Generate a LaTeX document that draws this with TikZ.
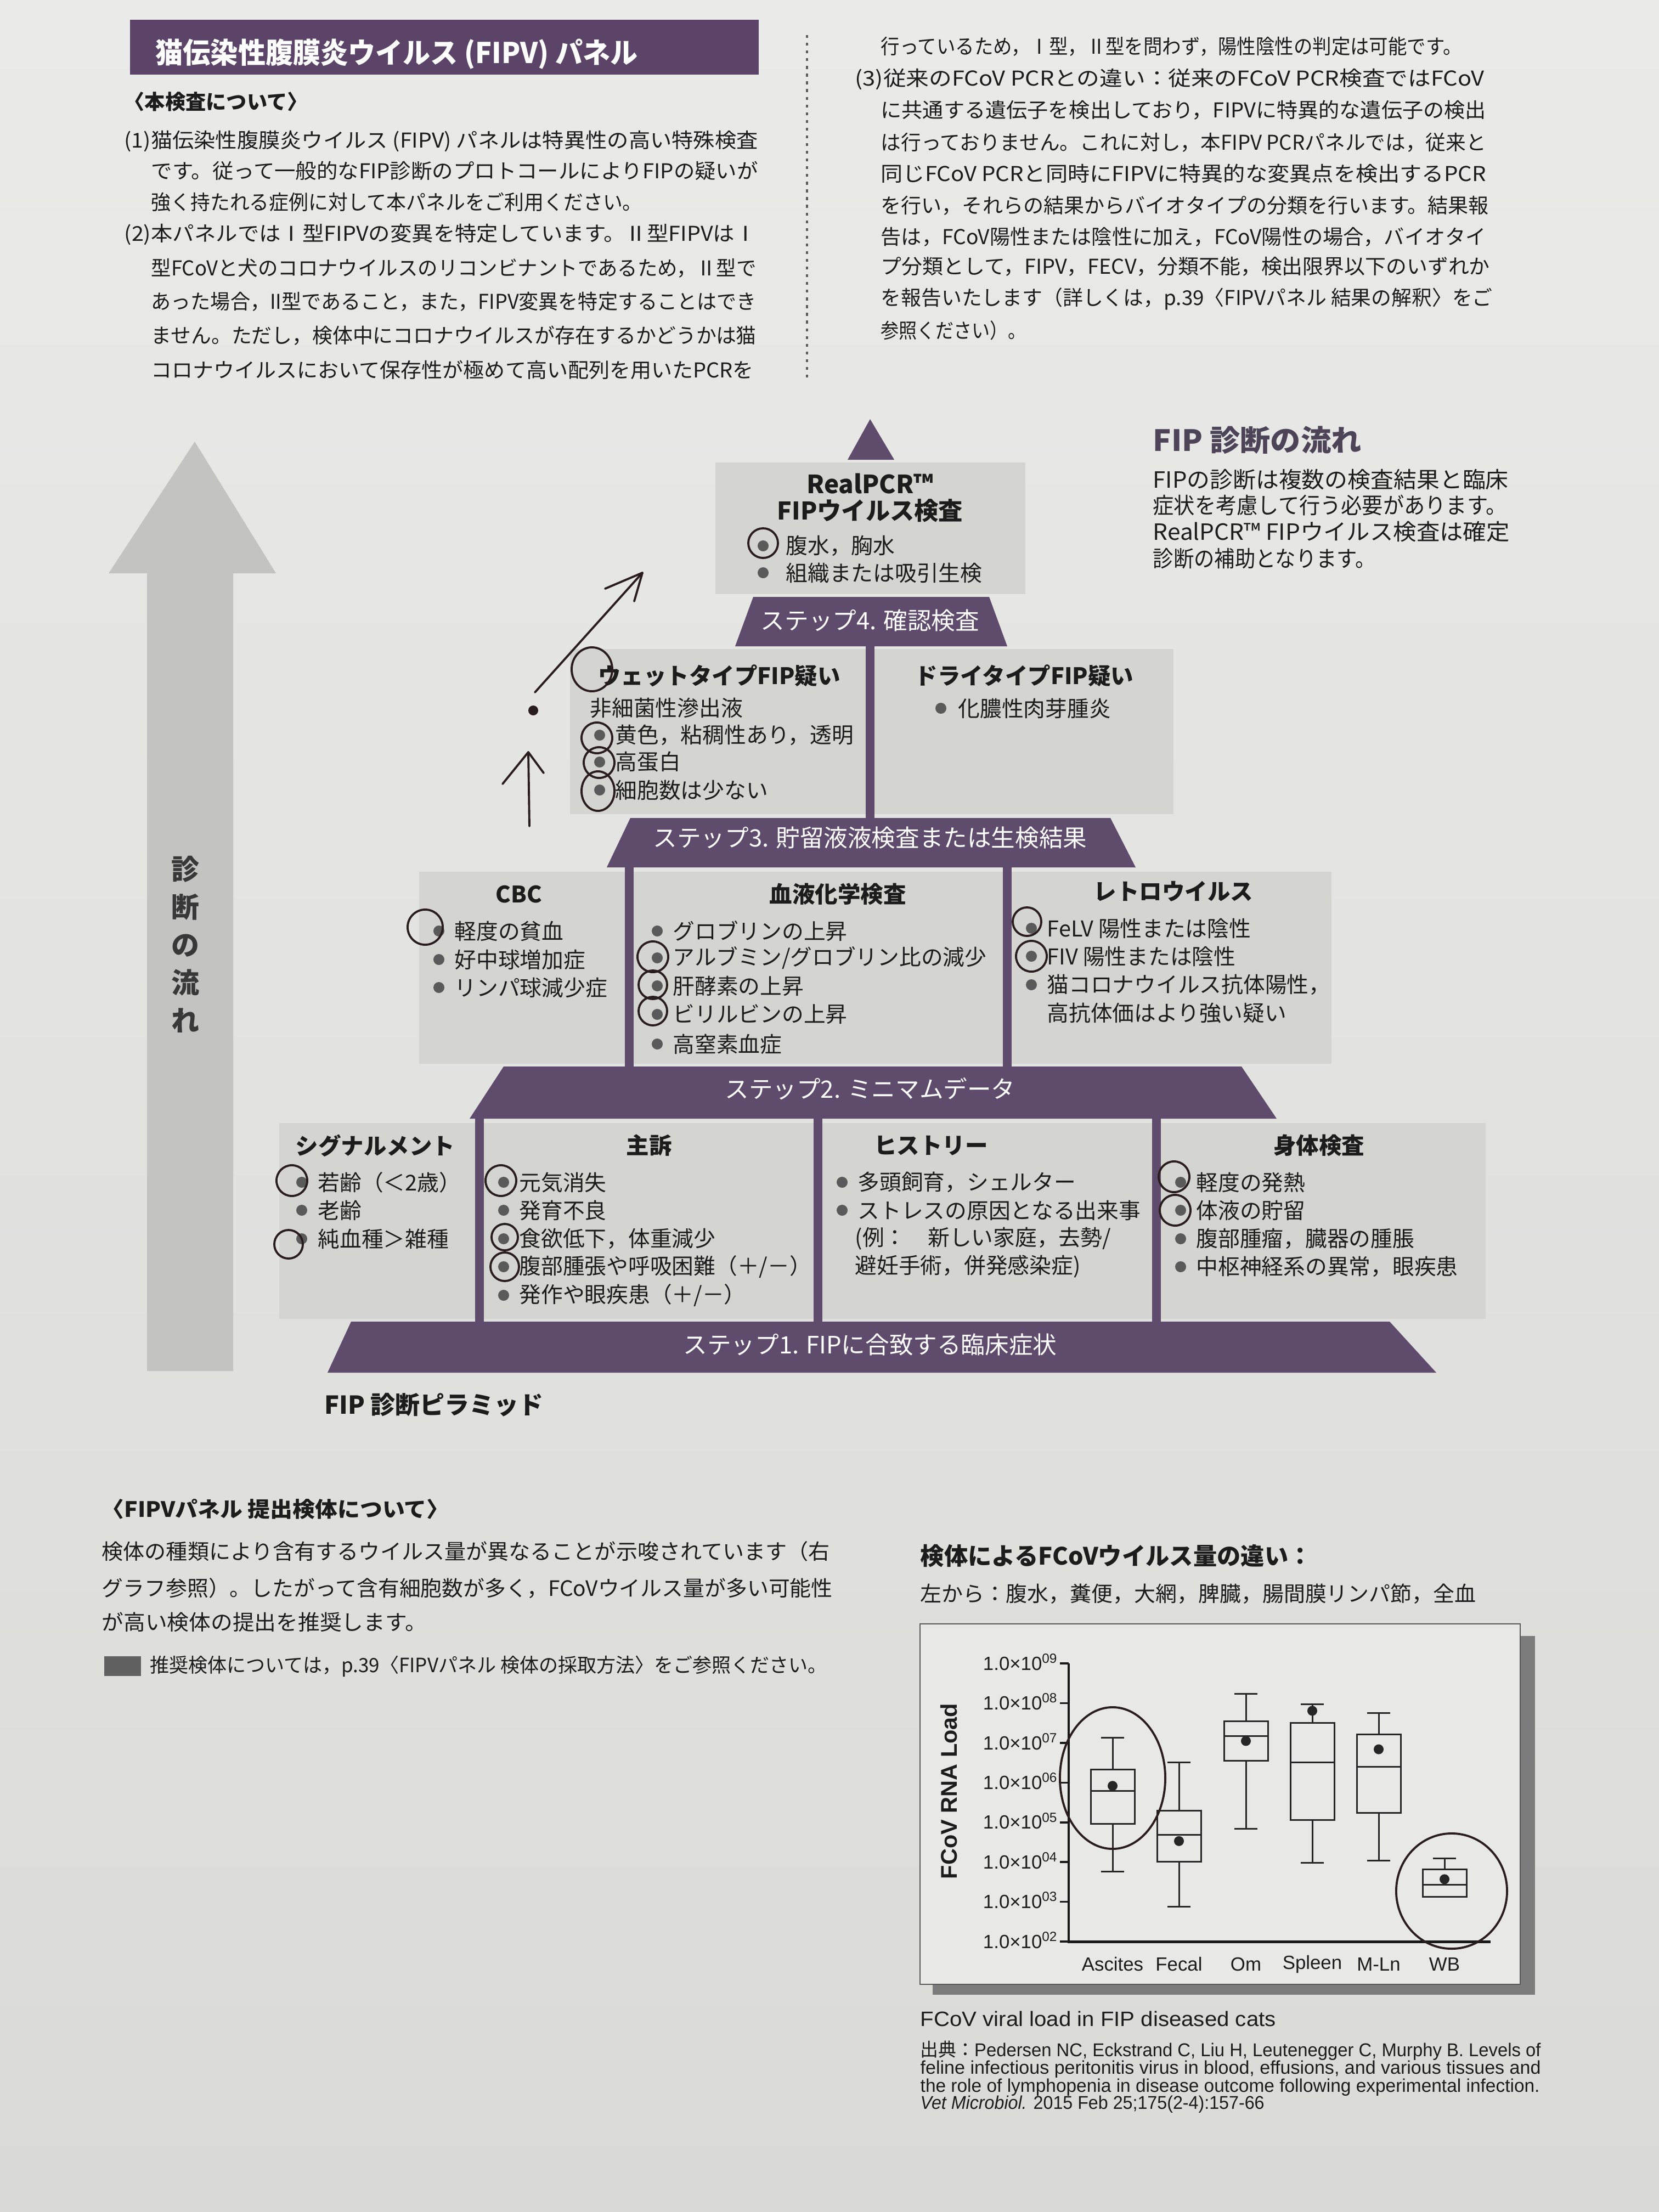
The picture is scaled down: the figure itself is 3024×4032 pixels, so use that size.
\documentclass[tikz,border=0pt]{standalone}
\usepackage{fontspec}
\usepackage{graphicx}
\setmainfont{Noto Sans CJK JP}
\newfontfamily\lat{Liberation Sans}
\usetikzlibrary{arrows.meta}
\definecolor{paperT}{HTML}{EAEAE8}
\definecolor{paperB}{HTML}{DADAD7}
\definecolor{boxg}{HTML}{D4D4D1}
\definecolor{purp}{HTML}{5F4B6C}
\definecolor{hbar}{HTML}{5B4468}
\definecolor{headc}{HTML}{4E4458}
\definecolor{ink}{HTML}{1C1C1C}
\definecolor{dotg}{HTML}{5A5A5A}
\definecolor{pen}{HTML}{2A1D1D}
\definecolor{arrowg}{HTML}{C3C3C1}
\definecolor{shadowg}{HTML}{7C7C7C}
\definecolor{chartbg}{HTML}{E8E8E6}
\newlength\pxu \setlength\pxu{0.01cm}
\newcounter{tn}
\newcommand\rl[5][]{\stepcounter{tn}\node[txt,#1] (t\arabic{tn}) at (#2,#3) {\resizebox{#4\pxu}{\height}{#5}};}
\newcommand\vy[1]{(3539-(#1-2)*72.4)}
\newcommand\itm[5]{\fill[dotg] (#2,#4) circle (0.1cm); \node[pt] (#1) at (#3,#4) {#5};}
\newcommand\bxp[7]{%
 \draw[chartl] (#1,{\vy{#2}}) -- (#1,{\vy{#3}});
 \draw[chartl] (#1,{\vy{#6}}) -- (#1,{\vy{#7}});
 \draw[chartl] ({#1-21},{\vy{#2}}) -- ({#1+21},{\vy{#2}});
 \draw[chartl] ({#1-21},{\vy{#7}}) -- ({#1+21},{\vy{#7}});
 \draw[chartl] ({#1-40},{\vy{#3}}) rectangle ({#1+40},{\vy{#6}});
 \draw[chartl] ({#1-40},{\vy{#4}}) -- ({#1+40},{\vy{#4}});
 \fill[black!85] (#1,{\vy{#5}}) circle (0.09cm);}
\tikzset{
 txt/.style={anchor=west, inner sep=0pt, text=ink, font=\fontsize{10.6}{12}\selectfont},
 pt/.style={anchor=west, inner sep=0pt, text=ink, font=\fontsize{11.3}{13}\selectfont},
 hd/.style={inner sep=0pt, text=ink, font=\bfseries\fontsize{11.8}{13}\selectfont},
 steptxt/.style={inner sep=0pt, text=white, font=\fontsize{12.4}{14}\selectfont},
 pencirc/.style={draw=pen, line width=1.1pt},
 penline/.style={draw=pen, line width=1.1pt, line cap=round, line join=round},
 chartl/.style={draw=black!85, line width=0.85pt},
 latf/.style={inner sep=0pt, text=ink, font=\lat\fontsize{9.9}{11}\selectfont},
 fs/.style={font=\fontsize{#1}{#1}\selectfont},
 fb/.style={font=\bfseries\fontsize{#1}{#1}\selectfont},
 fl/.style={font=\lat\fontsize{#1}{#1}\selectfont},
}
\begin{document}
\begin{tikzpicture}[x=0.01cm,y=-0.01cm]
\useasboundingbox (0,0) rectangle (3024,4032);
\shade[top color=paperT, bottom color=paperB] (0,0) rectangle (3024,4032);

% ---------- top header ----------
\fill[hbar] (237,36) rectangle (1383,136);
\rl[text=white,fb=14.8]{283}{98}{879}{猫伝染性腹膜炎ウイルス (FIPV) パネル}
\rl[fb=10.6]{226}{185}{334}{〈本検査について〉}
\rl{226}{257}{1155}{(1)猫伝染性腹膜炎ウイルス (FIPV) パネルは特異性の高い特殊検査}
\rl{275}{311}{1106}{です。従って一般的なFIP診断のプロトコールによりFIPの疑いが}
\rl{275}{368}{895}{強く持たれる症例に対して本パネルをご利用ください。}
\rl{226}{427}{1152}{(2)本パネルではⅠ型FIPVの変異を特定しています。Ⅱ型FIPVはⅠ}
\rl{275}{489}{1103}{型FCoVと犬のコロナウイルスのリコンビナントであるため，Ⅱ型で}
\rl{275}{550}{1103}{あった場合，II型であること，また，FIPV変異を特定することはでき}
\rl{275}{612}{1103}{ません。ただし，検体中にコロナウイルスが存在するかどうかは猫}
\rl{275}{674}{1098}{コロナウイルスにおいて保存性が極めて高い配列を用いたPCRを}

\draw[dotg, line width=1.2pt, dash pattern=on 1.5pt off 2.5pt] (1471,64) -- (1471,689);

\rl{1605}{85}{1059}{行っているため，Ⅰ型，Ⅱ型を問わず，陽性陰性の判定は可能です。}
\rl{1558}{144}{1147}{(3)従来のFCoV PCRとの違い：従来のFCoV PCR検査ではFCoV}
\rl{1605}{201}{1103}{に共通する遺伝子を検出しており，FIPVに特異的な遺伝子の検出}
\rl{1605}{260}{1103}{は行っておりません。これに対し，本FIPV PCRパネルでは，従来と}
\rl{1605}{316}{1103}{同じFCoV PCRと同時にFIPVに特異的な変異点を検出するPCR}
\rl{1605}{375}{1108}{を行い，それらの結果からバイオタイプの分類を行います。結果報}
\rl{1605}{432}{1103}{告は，FCoV陽性または陰性に加え，FCoV陽性の場合，バイオタイ}
\rl{1605}{486}{1110}{プ分類として，FIPV，FECV，分類不能，検出限界以下のいずれか}
\rl{1605}{545}{1115}{を報告いたします（詳しくは，p.39〈FIPVパネル 結果の解釈〉をご}
\rl{1605}{602}{265}{参照ください）。}

% ---------- right side explanation ----------
\rl[text=headc,fb=15.2]{2101}{802}{380}{FIP 診断の流れ}
\rl[fs=11.6]{2101}{874}{648}{FIPの診断は複数の検査結果と臨床}
\rl[fs=11.6]{2101}{921}{645}{症状を考慮して行う必要があります。}
\rl[fs=11.6]{2101}{969}{650}{RealPCR™ FIPウイルス検査は確定}
\rl[fs=11.6]{2101}{1018}{406}{診断の補助となります。}

% ---------- big arrow ----------
\fill[arrowg] (268,2499) -- (268,1045) -- (198,1045) -- (355,805) -- (503,1045) -- (425,1045) -- (425,2499) -- cycle;
\node[align=center, inner sep=0pt, text=black!78, font=\bfseries\fontsize{14.5}{19.6}\selectfont] (flow) at (338,1721) {診\\断\\の\\流\\れ};

% ---------- pyramid shapes ----------
\fill[purp] (1586,764) -- (1630,838) -- (1545,838) -- cycle;
\fill[boxg] (1304,843) rectangle (1869,1083);
\fill[purp] (1373,1088) -- (1803,1088) -- (1836,1178) -- (1340,1178) -- cycle;
\fill[boxg] (1039,1183) rectangle (1578,1484);
\fill[boxg] (1594,1183) rectangle (2139,1484);
\fill[purp] (1578,1178) rectangle (1594,1491);
\fill[purp] (1149,1491) -- (2024,1491) -- (2070,1581) -- (1106,1581) -- cycle;
\fill[boxg] (764,1589) rectangle (1139,1939);
\fill[boxg] (1155,1589) rectangle (1828,1939);
\fill[boxg] (1844,1589) rectangle (2427,1939);
\fill[purp] (1139,1581) rectangle (1155,1944);
\fill[purp] (1828,1581) rectangle (1844,1944);
\fill[purp] (918,1944) -- (2263,1944) -- (2327,2039) -- (856,2039) -- cycle;
\fill[boxg] (509,2047) rectangle (866,2404);
\fill[boxg] (882,2047) rectangle (1483,2404);
\fill[boxg] (1499,2047) rectangle (2100,2404);
\fill[boxg] (2116,2047) rectangle (2708,2404);
\fill[purp] (866,2039) rectangle (882,2409);
\fill[purp] (1483,2039) rectangle (1499,2409);
\fill[purp] (2100,2039) rectangle (2116,2409);
\fill[purp] (640,2409) -- (2533,2409) -- (2618,2502) -- (597,2502) -- cycle;

% step labels
\node[steptxt] (s4) at (1586,1131) {ステップ4. 確認検査};
\node[steptxt] (s3) at (1586,1527) {ステップ3. 貯留液液検査または生検結果};
\node[steptxt] (s2) at (1586,1985) {ステップ2. ミニマムデータ};
\node[steptxt] (s1) at (1586,2451) {ステップ1. FIPに合致する臨床症状};

% step 4 box
\node[hd, font=\bfseries\fontsize{13}{14}\selectfont] (rp) at (1586,882) {RealPCR™};
\node[hd, font=\bfseries\fontsize{12.6}{14}\selectfont] (fv) at (1586,931) {FIPウイルス検査};
\itm{a1}{1391}{1432}{995}{腹水，胸水}
\itm{a2}{1391}{1432}{1044}{組織または吸引生検}

% step 3 boxes
\node[hd] (wet) at (1311,1232) {ウェットタイプFIP疑い};
\node[pt] (wet0) at (1075,1291) {非細菌性滲出液};
\itm{w1}{1093}{1121}{1340}{黄色，粘稠性あり，透明}
\itm{w2}{1093}{1121}{1389}{高蛋白}
\itm{w3}{1093}{1121}{1440}{細胞数は少ない}
\node[hd] (dry) at (1867,1232) {ドライタイプFIP疑い};
\itm{d1}{1715}{1746}{1291}{化膿性肉芽腫炎}

% step 2 boxes
\node[hd] (cbc) at (946,1630) {CBC};
\itm{c1}{800}{828}{1697}{軽度の貧血}
\itm{c2}{800}{828}{1749}{好中球増加症}
\itm{c3}{800}{828}{1800}{リンパ球減少症}
\node[hd] (chem) at (1527,1630) {血液化学検査};
\itm{b1}{1198}{1226}{1697}{グロブリンの上昇}
\itm{b2}{1198}{1226}{1746}{アルブミン/グロブリン比の減少}
\itm{b3}{1198}{1226}{1797}{肝酵素の上昇}
\itm{b4}{1198}{1226}{1849}{ビリルビンの上昇}
\itm{b5}{1198}{1226}{1903}{高窒素血症}
\node[hd] (retro) at (2139,1625) {レトロウイルス};
\itm{r1}{1880}{1908}{1692}{FeLV 陽性または陰性}
\itm{r2}{1880}{1908}{1743}{FIV 陽性または陰性}
\itm{r3}{1880}{1908}{1795}{猫コロナウイルス抗体陽性，}
\node[pt] (r4) at (1908,1846) {高抗体価はより強い疑い};

% step 1 boxes
\node[hd] (sig) at (684,2088) {シグナルメント};
\itm{g1}{550}{579}{2155}{若齢（＜2歳）}
\itm{g2}{550}{579}{2206}{老齢}
\itm{g3}{550}{579}{2258}{純血種＞雑種}
\node[hd] (cc) at (1183,2088) {主訴};
\itm{k1}{918}{946}{2155}{元気消失}
\itm{k2}{918}{946}{2206}{発育不良}
\itm{k3}{918}{946}{2258}{食欲低下，体重減少}
\itm{k4}{918}{946}{2309}{腹部腫張や呼吸困難（＋/－）}
\itm{k5}{918}{946}{2361}{発作や眼疾患（＋/－）}
\node[hd] (hist) at (1697,2088) {ヒストリー};
\itm{h1}{1535}{1563}{2155}{多頭飼育，シェルター}
\itm{h2}{1535}{1563}{2206}{ストレスの原因となる出来事}
\node[pt] (h3) at (1558,2258) {(例：　新しい家庭，去勢/};
\node[pt] (h4) at (1558,2309) {避妊手術，併発感染症)};
\node[hd] (phys) at (2404,2088) {身体検査};
\itm{p1}{2152}{2180}{2155}{軽度の発熱}
\itm{p2}{2152}{2180}{2206}{体液の貯留}
\itm{p3}{2152}{2180}{2258}{腹部腫瘤，臓器の腫脹}
\itm{p4}{2152}{2180}{2309}{中枢神経系の異常，眼疾患}

\node[txt, font=\bfseries\fontsize{12.8}{14}\selectfont] (pyr) at (591,2561) {FIP 診断ピラミッド};

% ---------- bottom left ----------
\rl[fb=11]{185}{2751}{633}{〈FIPVパネル 提出検体について〉}
\rl[fs=11]{185}{2828}{1327}{検体の種類により含有するウイルス量が異なることが示唆されています（右}
\rl[fs=11]{185}{2895}{1332}{グラフ参照）。したがって含有細胞数が多く，FCoVウイルス量が多い可能性}
\rl[fs=11]{185}{2957}{592}{が高い検体の提出を推奨します。}
\fill[black!62] (190,3019) rectangle (257,3055);
\rl[fs=10.2]{273}{3037}{1234}{推奨検体については，p.39〈FIPVパネル 検体の採取方法〉をご参照ください。}

% ---------- chart ----------
\rl[fb=12.4]{1677}{2836}{714}{検体によるFCoVウイルス量の違い：}
\rl[fs=11]{1677}{2905}{1013}{左から：腹水，糞便，大網，脾臓，腸間膜リンパ節，全血}
\fill[shadowg] (1700,2982) rectangle (2798,3636);
\filldraw[fill=chartbg, draw=black!65, line width=0.6pt] (1677,2960) rectangle (2771,3617);
\draw[black!90, line width=1.4pt] (1948,{\vy{9}}) -- (1948,{\vy{2}}) -- (2717,{\vy{2}});
\foreach \k in {2,...,9} {
  \draw[black!90, line width=1pt] (1932,{\vy{\k}}) -- (1948,{\vy{\k}});
  \node[latf, anchor=base east] (yl\k) at (1929,{\vy{\k}+12}) {1.0×10\textsuperscript{0\k}};
}
\node[latf, rotate=90, font=\lat\bfseries\fontsize{11.8}{13}\selectfont] (ytit) at (1730,3265) {FCoV RNA Load};
\node[latf] (xa) at (2028,3580) {Ascites};
\node[latf] (xf) at (2149,3580) {Fecal};
\node[latf] (xo) at (2271,3580) {Om};
\node[latf] (xs) at (2392,3580) {Spleen};
\node[latf] (xm) at (2513,3580) {M-Ln};
\node[latf] (xw) at (2633,3580) {WB};
\bxp{2028}{7.13}{6.33}{5.79}{5.92}{4.97}{3.76}
\bxp{2149}{6.51}{5.30}{4.69}{4.53}{4.01}{2.88}
\bxp{2271}{8.24}{7.54}{7.18}{7.05}{6.55}{4.84}
\bxp{2392}{7.97}{7.50}{6.51}{7.81}{5.06}{3.98}
\bxp{2513}{7.75}{7.22}{6.40}{6.84}{5.24}{4.04}
\bxp{2633}{4.09}{3.82}{3.43}{3.57}{3.12}{3.12}

\rl[fl=10.8]{1677}{3680}{648}{FCoV viral load in FIP diseased cats}
\rl[fl=9.6]{1677}{3738}{1131}{{\rmfamily 出典：}Pedersen NC, Eckstrand C, Liu H, Leutenegger C, Murphy B. Levels of}
\rl[fl=9.6]{1677}{3772}{1131}{feline infectious peritonitis virus in blood, effusions, and various tissues and}
\rl[fl=9.6]{1677}{3805}{1129}{the role of lymphopenia in disease outcome following experimental infection.}
\rl[fl=9.6]{1677}{3836}{627}{\textit{Vet Microbiol.} 2015 Feb 25;175(2-4):157-66}

% ---------- hand-drawn pen marks ----------
\coordinate (qa) at (975,1262); \coordinate (qb) at (1171,1044);
\coordinate (qc) at (1103,1073); \coordinate (qd) at (1156,1096);
\draw[penline] (qa) -- (qb);
\draw[penline] (qc) -- (qb) -- (qd);
\fill[pen] (972,1295) circle (0.09cm);
\coordinate (ua) at (965,1506); \coordinate (ub) at (963,1371);
\coordinate (uc) at (916,1429); \coordinate (ud) at (991,1409);
\draw[penline] (ua) -- (ub);
\draw[penline] (uc) -- (ub) -- (ud);
\draw[pencirc] (1391,990) circle (0.27cm);
\draw[pencirc] (1079,1220) ellipse [x radius=0.37cm, y radius=0.40cm];
\draw[pencirc] (1088,1345) circle (0.28cm);
\draw[pencirc] (1092,1390) circle (0.28cm);
\draw[pencirc] (1090,1442) ellipse [x radius=0.30cm, y radius=0.36cm];
\draw[pencirc] (775,1690) circle (0.32cm);
\draw[pencirc] (1190,1744) circle (0.28cm);
\draw[pencirc] (1190,1795) circle (0.26cm);
\draw[pencirc] (1190,1843) circle (0.26cm);
\draw[pencirc] (1872,1680) circle (0.26cm);
\draw[pencirc] (1880,1743) circle (0.28cm);
\draw[pencirc] (532,2152) circle (0.28cm);
\draw[pencirc] (526,2268) circle (0.26cm);
\draw[pencirc] (913,2152) circle (0.28cm);
\draw[pencirc] (920,2255) circle (0.24cm);
\draw[pencirc] (920,2309) circle (0.26cm);
\draw[pencirc] (2140,2145) circle (0.28cm);
\draw[pencirc] (2142,2206) circle (0.28cm);
\draw[pencirc] (2028,3241) ellipse [x radius=0.96cm, y radius=1.29cm];
\draw[pencirc] (2646,3447) ellipse [x radius=1.01cm, y radius=1.05cm];
\end{tikzpicture}
\end{document}
